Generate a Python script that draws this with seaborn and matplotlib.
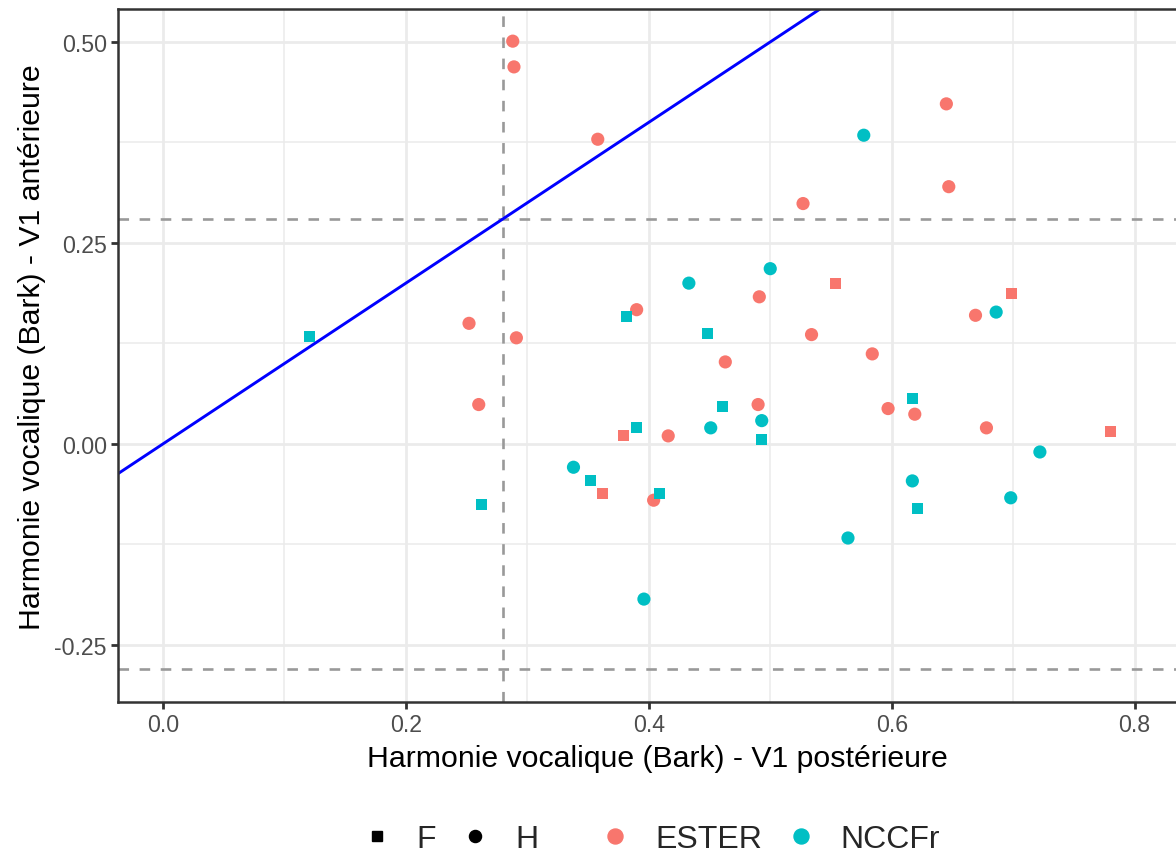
import matplotlib
matplotlib.use("Agg")
import matplotlib.pyplot as plt
from matplotlib.lines import Line2D
from matplotlib.ticker import FixedLocator
import seaborn as sns
import pandas as pd

# ---- data ----
ester_h_x = [0.288, 0.289, 0.358, 0.645, 0.647, 0.527, 0.252, 0.291, 0.260, 0.390, 0.491,
             0.534, 0.463, 0.584, 0.669, 0.490, 0.416, 0.597, 0.619, 0.678, 0.404]
ester_h_y = [0.501, 0.469, 0.379, 0.423, 0.320, 0.299, 0.150, 0.132, 0.049, 0.167, 0.183,
             0.136, 0.102, 0.112, 0.160, 0.049, 0.010, 0.044, 0.037, 0.020, -0.070]
ester_f_x = [0.554, 0.699, 0.379, 0.362, 0.780]
ester_f_y = [0.200, 0.187, 0.010, -0.062, 0.015]
nccfr_h_x = [0.577, 0.500, 0.433, 0.686, 0.451, 0.493, 0.338, 0.722, 0.617, 0.698, 0.564, 0.396]
nccfr_h_y = [0.384, 0.218, 0.200, 0.164, 0.020, 0.029, -0.029, -0.010, -0.046, -0.067, -0.117, -0.193]
nccfr_f_x = [0.121, 0.382, 0.448, 0.617, 0.461, 0.390, 0.493, 0.352, 0.409, 0.262, 0.621]
nccfr_f_y = [0.134, 0.159, 0.137, 0.056, 0.047, 0.020, 0.005, -0.046, -0.062, -0.075, -0.080]

corpora = ["ESTER", "NCCFr"]
genres = ["F", "H"]
threshold = 0.28
x_ticks = [0.0, 0.2, 0.4, 0.6, 0.8]
y_ticks = [-0.25, 0.0, 0.25, 0.50]
y_tick_labels = ["-0.25", "0.00", "0.25", "0.50"]
x_tick_labels = ["0.0", "0.2", "0.4", "0.6", "0.8"]
xlabel = "Harmonie vocalique (Bark) - V1 postérieure"
ylabel = "Harmonie vocalique (Bark) - V1 antérieure"

rows = []
for cx, cy, corp, g in [(ester_h_x, ester_h_y, "ESTER", "H"), (ester_f_x, ester_f_y, "ESTER", "F"),
                        (nccfr_h_x, nccfr_h_y, "NCCFr", "H"), (nccfr_f_x, nccfr_f_y, "NCCFr", "F")]:
    for a, b in zip(cx, cy):
        rows.append({"post": a, "ant": b, "corpus": corp, "genre": g})
df = pd.DataFrame(rows)

palette = {"ESTER": "#F8766D", "NCCFr": "#00BFC4"}

sns.set_theme(style="white")
plt.rcParams["font.family"] = ["Liberation Sans", "DejaVu Sans"]

fig = plt.figure(figsize=(11.76, 8.54), dpi=100)
ax = fig.add_axes([118 / 1176, 1 - 703 / 854, (1176 - 118) / 1176 + 0.002, (703 - 10) / 854])

ax.set_xlim(-0.037, 0.836)
ax.set_ylim(-0.321, 0.541)

# grid
ax.xaxis.set_major_locator(FixedLocator(x_ticks))
ax.yaxis.set_major_locator(FixedLocator(y_ticks))
ax.xaxis.set_minor_locator(FixedLocator([0.1, 0.3, 0.5, 0.7]))
ax.yaxis.set_minor_locator(FixedLocator([-0.125, 0.125, 0.375]))
ax.grid(True, which="major", color="#EBEBEB", linewidth=2.0, zorder=0)
ax.grid(True, which="minor", color="#EBEBEB", linewidth=1.1, zorder=0)
ax.set_axisbelow(True)

# reference lines
dash = (0, (4, 4))
ax.axvline(threshold, color="#999999", linestyle=dash, linewidth=1.9, zorder=1)
ax.axhline(threshold, color="#999999", linestyle=dash, linewidth=1.9, zorder=1)
ax.axhline(-threshold, color="#999999", linestyle=dash, linewidth=1.9, zorder=1)
ax.axline((0, 0), slope=1, color="#0000FF", linewidth=2.1, zorder=2)

# points
sns.scatterplot(data=df[df.genre == "H"], x="post", y="ant", hue="corpus", hue_order=corpora,
                palette=palette, marker="o", s=90, linewidth=0, legend=False, ax=ax, zorder=3)
sns.scatterplot(data=df[df.genre == "F"], x="post", y="ant", hue="corpus", hue_order=corpora,
                palette=palette, marker="s", s=62, linewidth=0, legend=False, ax=ax, zorder=3)

ax.set_xticklabels(x_tick_labels)
ax.set_yticklabels(y_tick_labels)
ax.tick_params(axis="both", which="major", labelsize=16.7, labelcolor="#4D4D4D",
               color="#333333", length=5, width=2.0, direction="out", bottom=True, left=True, pad=3)
ax.tick_params(axis="both", which="minor", length=0)

for sp in ax.spines.values():
    sp.set_color("#333333")
    sp.set_linewidth(1.8)

ax.set_xlabel(xlabel, fontsize=21.8, color="black")
ax.set_ylabel(ylabel, fontsize=21.8, color="black")
ax.xaxis.set_label_coords(0.5085, -0.061)
ax.yaxis.set_label_coords(-0.068, 0.513)

# legends
shape_handles = [Line2D([], [], marker="s", color="black", linestyle="", markersize=7.8),
                 Line2D([], [], marker="o", color="black", linestyle="", markersize=8.7)]
col_handles = [Line2D([], [], marker="o", color=palette[c], linestyle="", markersize=10.8) for c in corpora]
ly = 1 - 840 / 854
common = dict(ncol=2, frameon=False, fontsize=23, handletextpad=0.75, columnspacing=0.72,
              handlelength=1.0, borderpad=0, borderaxespad=0)
fig.legend(shape_handles, genres, loc="center right", bbox_to_anchor=(538 / 1176, ly), **common)
fig.legend(col_handles, corpora, loc="center left", bbox_to_anchor=(599 / 1176, ly), **common)

fig.savefig("out.png", dpi=100)
